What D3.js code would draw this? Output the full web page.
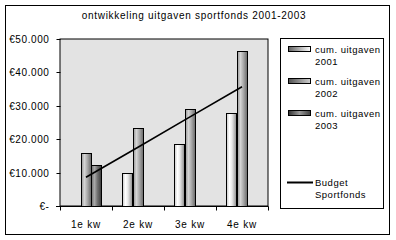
<!DOCTYPE html>
<html><head><meta charset="utf-8">
<script src="https://cdn.jsdelivr.net/npm/d3@7"></script>
<style>
body{margin:0;background:#fff;}
text{font-family:"Liberation Sans",Arial,sans-serif;fill:#000;}
</style></head>
<body><svg id="c" width="396" height="240"></svg>
<script>
const title = "ontwikkeling uitgaven sportfonds 2001-2003";
const categories = ["1e kw","2e kw","3e kw","4e kw"];
const seriesNames = ["cum. uitgaven 2001","cum. uitgaven 2002","cum. uitgaven 2003"];
const values2001 = [0, 9800, 18600, 27800];
const values2002 = [15800, 23300, 29000, 46400];
const values2003 = [12200, null, null, null];
const budgetName = "Budget Sportfonds";
const budget = [8600, 17600, 26700, 35700];
const yTicks = [0, 10000, 20000, 30000, 40000, 50000];

const svg = d3.select("#c");
const defs = svg.append("defs");
const grads = [
  {id:"g0", stops:[["0%","#c8c8c8"],["30%","#ffffff"],["55%","#e8e8e8"],["100%","#8c8c8c"]]},
  {id:"g1", stops:[["0%","#9a9a9a"],["30%","#d4d4d4"],["60%","#a8a8a8"],["100%","#666666"]]},
  {id:"g2", stops:[["0%","#707070"],["30%","#a8a8a8"],["60%","#707070"],["100%","#3a3a3a"]]}
];
grads.forEach(g=>{
  const lg = defs.append("linearGradient").attr("id",g.id).attr("x1","0%").attr("x2","100%").attr("y1","0%").attr("y2","0%");
  g.stops.forEach(s=>lg.append("stop").attr("offset",s[0]).attr("stop-color",s[1]));
});
const lgrads = [
  {id:"l0", stops:[["0%","#606060"],["100%","#ffffff"]]},
  {id:"l1", stops:[["0%","#505050"],["100%","#d0d0d0"]]},
  {id:"l2", stops:[["0%","#303030"],["50%","#9a9a9a"],["100%","#404040"]]}
];
lgrads.forEach(g=>{
  const lg = defs.append("linearGradient").attr("id",g.id).attr("x1","0%").attr("x2","100%").attr("y1","0%").attr("y2","0%");
  g.stops.forEach(s=>lg.append("stop").attr("offset",s[0]).attr("stop-color",s[1]));
});

// outer frame
svg.append("rect").attr("x",5.5).attr("y",5.5).attr("width",384).attr("height",229)
  .attr("fill","#fff").attr("stroke","#000").attr("stroke-width",1);

svg.append("text").attr("x",194).attr("y",19).attr("text-anchor","middle")
  .style("font-size","10px").style("letter-spacing","0.7px").text(title);

const x = d3.scaleBand().domain(categories).range([60,268]).paddingInner(0).paddingOuter(0);
const x1 = d3.scaleBand().domain([0,1,2]).range([x.bandwidth()*0.2, x.bandwidth()*0.8]);
const y = d3.scaleLinear().domain([0,50000]).range([206,39]);

svg.append("rect").attr("x",60).attr("y",39).attr("width",208).attr("height",167)
  .attr("fill","#e3e3e3").attr("stroke","#000").attr("stroke-width",1);

const series = [values2001, values2002, values2003];
categories.forEach((c,ci)=>{
  series.forEach((s,si)=>{
    const v = s[ci];
    if (v==null || v<=0) return;
    svg.append("rect")
      .attr("x", Math.round(x(c)+x1(si))+0.5)
      .attr("y", Math.round(y(v))+0.5)
      .attr("width", Math.round(x1.bandwidth()))
      .attr("height", Math.round(y(0)-y(v)))
      .attr("fill","url(#g"+si+")").attr("stroke","#000").attr("stroke-width",1);
  });
});

// budget line
const line = d3.line().x((d,i)=>x(categories[i])+x.bandwidth()/2).y(d=>y(d));
svg.append("path").attr("d",line(budget)).attr("fill","none").attr("stroke","#000").attr("stroke-width",1.6);

// axes
const fmt = v => v===0 ? "€-" : "€" + d3.format(",")(v).replace(/,/g,".");
const yAxis = d3.axisLeft(y).tickValues(yTicks).tickSize(4).tickPadding(7).tickFormat(fmt);
const gy = svg.append("g").attr("transform","translate(60.5,0)").call(yAxis);
gy.select(".domain").remove();
gy.selectAll(".tick line").attr("stroke","#000");
gy.selectAll("text").style("font-size","10px").style("letter-spacing","0.6px").attr("font-family",null);
gy.selectAll(".tick").attr("transform",d=>"translate(0,"+(Math.round(y(d))+0.5)+")");

const xAxis = d3.axisBottom(d3.scalePoint().domain([0,1,2,3,4]).range([60,268])).tickSize(4).tickFormat("");
const gx = svg.append("g").attr("transform","translate(0,206.5)").call(xAxis);
gx.select(".domain").attr("stroke","#000").attr("d","M56,0H268.5");
gx.selectAll(".tick line").attr("stroke","#000");
gx.selectAll(".tick").attr("transform",d=>"translate("+(Math.round(60+d*52)+0.5)+",0)");
svg.append("g").selectAll("text").data(categories).join("text")
  .attr("x",d=>x(d)+x.bandwidth()/2).attr("y",228).attr("text-anchor","middle")
  .style("font-size","10px").style("letter-spacing","0.8px").text(d=>d);

// legend
svg.append("rect").attr("x",280.5).attr("y",38.5).attr("width",103).attr("height",170)
  .attr("fill","#fff").attr("stroke","#000").attr("stroke-width",1);
const legY = [49, 81, 113];
seriesNames.forEach((n,i)=>{
  const parts = [n.slice(0, n.lastIndexOf(" ")), n.slice(n.lastIndexOf(" ")+1)];
  svg.append("rect").attr("x",288.5).attr("y",legY[i]-2.5).attr("width",22).attr("height",5)
    .attr("fill","url(#l"+i+")").attr("stroke","#000").attr("stroke-width",1);
  const t = svg.append("text").attr("x",315).attr("y",legY[i]+3.5)
    .style("font-size","9.5px").style("letter-spacing","0.5px");
  t.append("tspan").attr("x",315).text(parts[0]);
  t.append("tspan").attr("x",315).attr("dy",12).text(parts[1]);
});
svg.append("line").attr("x1",287).attr("x2",313).attr("y1",182.5).attr("y2",182.5)
  .attr("stroke","#000").attr("stroke-width",2);
const bt = svg.append("text").attr("x",315).attr("y",186).style("font-size","9.5px").style("letter-spacing","0.5px");
bt.append("tspan").attr("x",315).text(budgetName.split(" ")[0]);
bt.append("tspan").attr("x",315).attr("dy",12).text(budgetName.split(" ")[1]);
</script></body></html>
